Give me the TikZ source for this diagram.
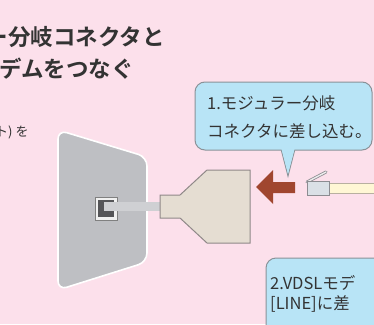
\documentclass[tikz,border=0pt]{standalone}
\usepackage{fontspec}
\newfontfamily\jp{Noto Sans CJK JP}
\newfontfamily\jpbold{Noto Sans CJK JP Bold}
\definecolor{bgpink}{RGB}{252,224,235}
\definecolor{titlegray}{RGB}{51,51,51}
\definecolor{plategray}{RGB}{190,191,195}
\definecolor{cablegray}{RGB}{207,208,211}
\definecolor{jackdark}{RGB}{85,85,88}
\definecolor{beige}{RGB}{229,221,210}
\definecolor{beigeline}{RGB}{143,136,136}
\definecolor{arrowred}{RGB}{160,70,47}
\definecolor{plugblue}{RGB}{218,224,230}
\definecolor{plugline}{RGB}{140,140,145}
\definecolor{cream}{RGB}{255,247,213}
\definecolor{creamline}{RGB}{184,176,160}
\definecolor{bubbleblue}{RGB}{184,228,246}
\definecolor{bubbleline}{RGB}{138,146,152}
\tikzset{
  title/.style={anchor=base west, inner sep=0pt, text=titlegray, font=\jpbold\fontsize{22.5}{27}\selectfont},
  note/.style={anchor=base west, inner sep=0pt, text=titlegray, font=\jp\fontsize{13}{15}\selectfont},
  bubbletext/.style={anchor=base west, inner sep=0pt, text=titlegray, font=\jp\fontsize{16.5}{20}\selectfont},
  bubble/.style={fill=bubbleblue, draw=bubbleline, line width=1pt},
  plate/.style={fill=plategray, draw=white, line width=1.6pt},
  adapter/.style={fill=beige, draw=beigeline, line width=1pt},
}
\begin{document}
\begin{tikzpicture}[x=1pt, y=-1pt]
  \clip (0,0) rectangle (374,324);
  \fill[bgpink] (0,0) rectangle (374,324);

  % heading and note
  \node[title] (head1) at (-14.5,45) {ー分岐コネクタと};
  \node[title] (head2) at (-1,77) {デムをつなぐ};
  \node[note] (note) at (-5,136) {ト)\hspace{3pt}を};

  % wall plate with modular jack
  \filldraw[plate, rounded corners=9pt] (58,130) -- (147,157) -- (147,262) -- (58,290) -- cycle;
  \filldraw[fill=white!94!black, draw=gray, line width=0.6pt] (95,197) rectangle (117,220);
  \fill[jackdark] (98,200) rectangle (114,217);
  \fill[cablegray] (104,202) rectangle (160,211);
  \draw[jackdark, line width=1pt] (103.5,211) -- (103.5,201.5) -- (108,201.5);

  % branch adapter
  \filldraw[adapter] (160,195) -- (180,195) -- (207,170) -- (250,170) -- (250,243)
    -- (207,243) -- (180,218) -- (160,218) -- cycle;

  % insertion arrow
  \fill[arrowred] (256,187) -- (273,170) -- (273,182) -- (295,182) -- (295,193)
    -- (273,193) -- (273,204) -- cycle;

  % modular plug with cord
  \draw[plugline, line width=3pt, line cap=round] (307,182) -- (326,172);
  \draw[white!85!gray, line width=1.4pt, line cap=round] (307,182) -- (326,172);
  \filldraw[fill=cream, draw=creamline, line width=0.8pt] (329,183) rectangle (385,193);
  \filldraw[fill=plugblue, draw=plugline, line width=0.8pt] (307,181) rectangle (329,195);

  % callout 1
  \filldraw[bubble] (280,145) -- (288,176) -- (296,145) -- cycle;
  \filldraw[bubble, rounded corners=10pt] (195,82) rectangle (372,150);
  \fill[bubbleblue] (281.2,148) -- (288,174) -- (294.8,148) -- cycle;
  \node[bubbletext] (step1a) at (207,109) {1.モジュラー分岐};
  \node[bubbletext] (step1b) at (207,137) {コネクタに差し込む。};

  % callout 2
  \filldraw[bubble, rounded corners=10pt] (266,258) rectangle (400,350);
  \node[bubbletext] (step2a) at (270,289) {2.VDSLモデ};
  \node[bubbletext] (step2b) at (270,309) {[LINE]に差};
\end{tikzpicture}
\end{document}
